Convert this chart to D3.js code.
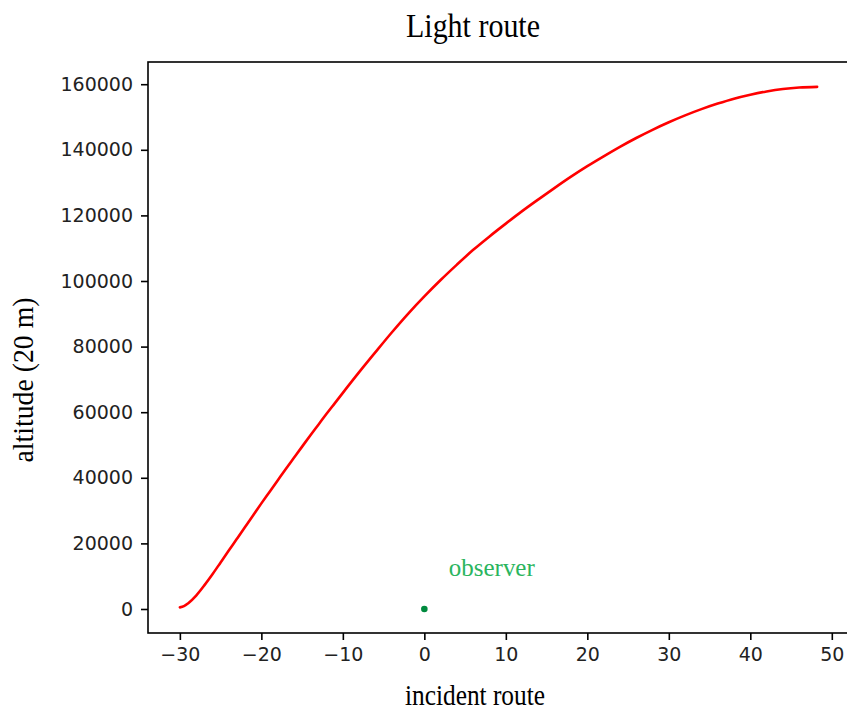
<!DOCTYPE html>
<html>
<head>
<meta charset="utf-8">
<script src="https://cdn.jsdelivr.net/npm/d3@7"></script>
<style>
  body { margin: 0; background: #fff; }
  .tick text { font-family: "DejaVu Sans", sans-serif; fill: #222; }
</style>
</head>
<body>
<div id="chart"></div>
<script>
// light route
var routeX = [-30, -29.5, -29, -28, -27, -26, -25, -24, -23, -22, -21, -20, -19, -18, -17, -16, -15, -14, -13, -12, -11, -10,
  -8, -6, -4, -2, 0, 2, 4, 6, 8, 10, 12, 14, 16, 18, 20, 22, 24, 26, 28, 30, 32, 34, 36, 38, 40, 42, 44, 46, 48.2];
var routeY = [500, 850, 1700, 4100, 7200, 10600, 14200, 17800, 21400, 25000, 28600, 32200, 35700, 39200, 42700, 46100, 49500, 52900, 56200, 59500, 62700, 65900,
  72200, 78300, 84300, 90000, 95300, 100300, 105000, 109500, 113600, 117500, 121300, 124900, 128400, 131800, 135000, 138000, 140900, 143600, 146100, 148400, 150500, 152400, 154100, 155600, 156800, 157800, 158550, 159000, 159200];

var observer = { x: 0, y: 0, label: "observer", labelX: 3, labelY: 10000 };

var xTicks = [-30, -20, -10, 0, 10, 20, 30, 40, 50];
var yTicks = [0, 20000, 40000, 60000, 80000, 100000, 120000, 140000, 160000];

var W = 847, H = 712;
var margin = { top: 62, left: 148, bottom: 79, right: -2 };

var svg = d3.select("#chart").append("svg")
  .attr("width", W)
  .attr("height", H);

var x = d3.scaleLinear().domain([-33.91, 52.11]).range([margin.left, W - margin.right]);
var y = d3.scaleLinear().domain([-7320, 166770]).range([H - margin.bottom, margin.top]);

var data = routeX.map(function (d, i) { return { x: d, y: routeY[i] }; });

// axes
var xAxis = svg.append("g")
  .attr("transform", "translate(0," + (H - margin.bottom) + ")")
  .call(d3.axisBottom(x).tickValues(xTicks).tickSize(7).tickPadding(8)
    .tickFormat(function (d) { return d < 0 ? "\u2212" + Math.abs(d) : d; }));
var yAxis = svg.append("g")
  .attr("transform", "translate(" + margin.left + ",0)")
  .call(d3.axisLeft(y).tickValues(yTicks).tickSize(7).tickPadding(8).tickFormat(d3.format("d")));

[xAxis, yAxis].forEach(function (g) {
  g.select(".domain").remove();
  g.selectAll(".tick line").attr("stroke", "#000").attr("stroke-width", 1.6);
  g.selectAll(".tick text").style("font-size", "19px");
});

// frame
svg.append("rect")
  .attr("x", margin.left)
  .attr("y", margin.top)
  .attr("width", W - margin.right - margin.left)
  .attr("height", H - margin.bottom - margin.top)
  .attr("fill", "none")
  .attr("stroke", "#000")
  .attr("stroke-width", 1.6);

// route
svg.append("path")
  .datum(data)
  .attr("fill", "none")
  .attr("stroke", "#ff0000")
  .attr("stroke-width", 2.6)
  .attr("stroke-linecap", "round")
  .attr("d", d3.line()
    .x(function (d) { return x(d.x); })
    .y(function (d) { return y(d.y); })
    .curve(d3.curveMonotoneX));

// observer
svg.append("circle")
  .attr("cx", x(observer.x))
  .attr("cy", y(observer.y))
  .attr("r", 3.3)
  .attr("fill", "#008a3e");
svg.append("text")
  .attr("x", x(observer.labelX))
  .attr("y", y(observer.labelY))
  .attr("font-family", "Liberation Serif, serif")
  .attr("font-size", 25)
  .attr("fill", "#2bb55e")
  .attr("textLength", 86)
  .attr("lengthAdjust", "spacingAndGlyphs")
  .text(observer.label);

// titles
svg.append("text")
  .attr("x", 473)
  .attr("y", 37)
  .attr("text-anchor", "middle")
  .attr("font-family", "Liberation Serif, serif")
  .attr("font-size", 33)
  .attr("textLength", 134)
  .attr("lengthAdjust", "spacingAndGlyphs")
  .text("Light route");

svg.append("text")
  .attr("x", 475)
  .attr("y", 705)
  .attr("text-anchor", "middle")
  .attr("font-family", "Liberation Serif, serif")
  .attr("font-size", 29)
  .attr("textLength", 140)
  .attr("lengthAdjust", "spacingAndGlyphs")
  .text("incident route");

svg.append("text")
  .attr("transform", "translate(33,380) rotate(-90)")
  .attr("text-anchor", "middle")
  .attr("font-family", "Liberation Serif, serif")
  .attr("font-size", 29)
  .attr("textLength", 165)
  .attr("lengthAdjust", "spacingAndGlyphs")
  .text("altitude (20 m)");
</script>
</body>
</html>
